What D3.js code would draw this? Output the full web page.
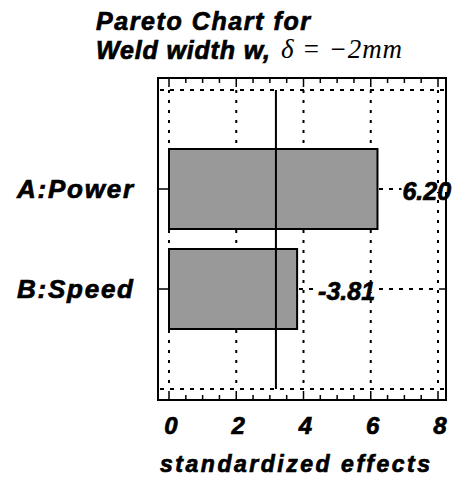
<!DOCTYPE html>
<html><head><meta charset="utf-8">
<script src="https://cdn.jsdelivr.net/npm/d3@7"></script>
<style>
html,body{margin:0;padding:0;background:#fff;}
svg text.b{font-family:"Liberation Sans",Arial,sans-serif;font-weight:bold;font-style:italic;fill:#000;stroke:#000;stroke-width:0.7px;}
</style></head>
<body>
<svg id="chart" width="467" height="482"></svg>
<script>
// ---- data ----
const categories = ["A:Power", "B:Speed"];
const effects = [6.20, 3.81];
const effectLabels = ["6.20", "-3.81"];
const xTicks = [0, 2, 4, 6, 8];
const xDomain = [0, 8];
const tCritical = 3.18;
const titleLines = ["Pareto Chart for", "Weld width w,"];
const titleMath = "\u03B4 = \u22122mm";
const xTitle = "standardized effects";

// ---- layout ----
const svg = d3.select("#chart");
const x = d3.scaleLinear().domain(xDomain).range([169, 438]);
const y = d3.scaleBand().domain(categories).range([78, 400]).paddingInner(0.2).paddingOuter(0.71);
const frame = {left: 158, right: 446, top: 78, bottom: 400};
const gridTop = 90, gridBottom = 389;

// Frame
svg.append("rect")
  .attr("x", frame.left).attr("y", frame.top)
  .attr("width", frame.right - frame.left).attr("height", frame.bottom - frame.top)
  .attr("fill", "none").attr("stroke", "#000").attr("stroke-width", 2);

// minor/major ticks on top and bottom of frame
const minor = d3.range(xDomain[0], xDomain[1] + 0.001, 0.5);
minor.forEach(v => {
  const major = xTicks.includes(v);
  const len = major ? 9 : 5;
  svg.append("line").attr("x1", x(v)).attr("x2", x(v))
    .attr("y1", frame.top).attr("y2", frame.top + len)
    .attr("stroke", "#000").attr("stroke-width", 1.5);
  svg.append("line").attr("x1", x(v)).attr("x2", x(v))
    .attr("y1", frame.bottom).attr("y2", frame.bottom - len)
    .attr("stroke", "#000").attr("stroke-width", 1.5);
});

// dotted grid verticals
xTicks.forEach(v => {
  svg.append("line").attr("x1", x(v)).attr("x2", x(v))
    .attr("y1", gridTop).attr("y2", gridBottom)
    .attr("stroke", "#000").attr("stroke-width", 2)
    .attr("stroke-dasharray", "3,7");
});
// dotted horizontal top/bottom
[gridTop, gridBottom].forEach(yy => {
  svg.append("line").attr("x1", frame.left + 2).attr("x2", frame.right - 2)
    .attr("y1", yy).attr("y2", yy)
    .attr("stroke", "#000").attr("stroke-width", 2)
    .attr("stroke-dasharray", "4,6");
});
// dotted horizontal at category centres + side ticks
categories.forEach(c => {
  const cy = y(c) + y.bandwidth() / 2;
  svg.append("line").attr("x1", x(0)).attr("x2", x(8))
    .attr("y1", cy).attr("y2", cy)
    .attr("stroke", "#000").attr("stroke-width", 2)
    .attr("stroke-dasharray", "4,6");
  svg.append("line").attr("x1", frame.left).attr("x2", x(0))
    .attr("y1", cy).attr("y2", cy).attr("stroke", "#000").attr("stroke-width", 1.5);
  svg.append("line").attr("x1", frame.right - 7).attr("x2", frame.right)
    .attr("y1", cy).attr("y2", cy).attr("stroke", "#000").attr("stroke-width", 1.5);
});

// bars
svg.selectAll("rect.bar").data(categories).enter().append("rect")
  .attr("class", "bar")
  .attr("x", x(0)).attr("y", c => y(c))
  .attr("width", (c, i) => x(effects[i]) - x(0))
  .attr("height", y.bandwidth())
  .attr("fill", "#999999").attr("stroke", "#000").attr("stroke-width", 2);

// reference line
svg.append("line").attr("x1", x(tCritical)).attr("x2", x(tCritical))
  .attr("y1", gridTop).attr("y2", gridBottom)
  .attr("stroke", "#000").attr("stroke-width", 2);

// value labels
const valOffsets = [25, 21];
categories.forEach((c, i) => {
  const cy = y(c) + y.bandwidth() / 2;
  const t = svg.append("text").attr("class", "b")
    .attr("x", x(effects[i]) + valOffsets[i]).attr("y", cy + 11)
    .attr("font-size", 25).text(effectLabels[i]);
  const bb = t.node().getBBox();
  svg.insert("rect", () => t.node())
    .attr("x", bb.x - 1).attr("y", cy - 3).attr("width", bb.width + 2).attr("height", 6)
    .attr("fill", "#fff");
});

// category labels
categories.forEach(c => {
  const cy = y(c) + y.bandwidth() / 2;
  svg.append("text").attr("class", "b").attr("x", 133).attr("y", cy + 9)
    .attr("text-anchor", "end").attr("font-size", 26)
    .attr("textLength", 116).attr("lengthAdjust", "spacing")
    .text(c);
});

// x tick labels
xTicks.forEach(v => {
  svg.append("text").attr("class", "b").attr("x", x(v) + 2).attr("y", 434)
    .attr("text-anchor", "middle").attr("font-size", 24).text(v);
});

// x title
svg.append("text").attr("class", "b").attr("x", 160).attr("y", 472)
  .attr("font-size", 23).attr("textLength", 270).attr("lengthAdjust", "spacing")
  .text(xTitle);

// title
svg.append("text").attr("class", "b").attr("x", 96).attr("y", 30).attr("font-size", 25)
  .attr("textLength", 214).attr("lengthAdjust", "spacing").text(titleLines[0]);
svg.append("text").attr("class", "b").attr("x", 96).attr("y", 59).attr("font-size", 25)
  .attr("textLength", 174).attr("lengthAdjust", "spacing").text(titleLines[1]);
svg.append("text").attr("x", 281).attr("y", 58)
  .style("font-family", "'Liberation Serif','Times New Roman',serif")
  .style("font-style", "italic").style("fill", "#000")
  .attr("font-size", 27).attr("textLength", 121).attr("lengthAdjust", "spacing")
  .text(titleMath);
</script>
</body></html>
